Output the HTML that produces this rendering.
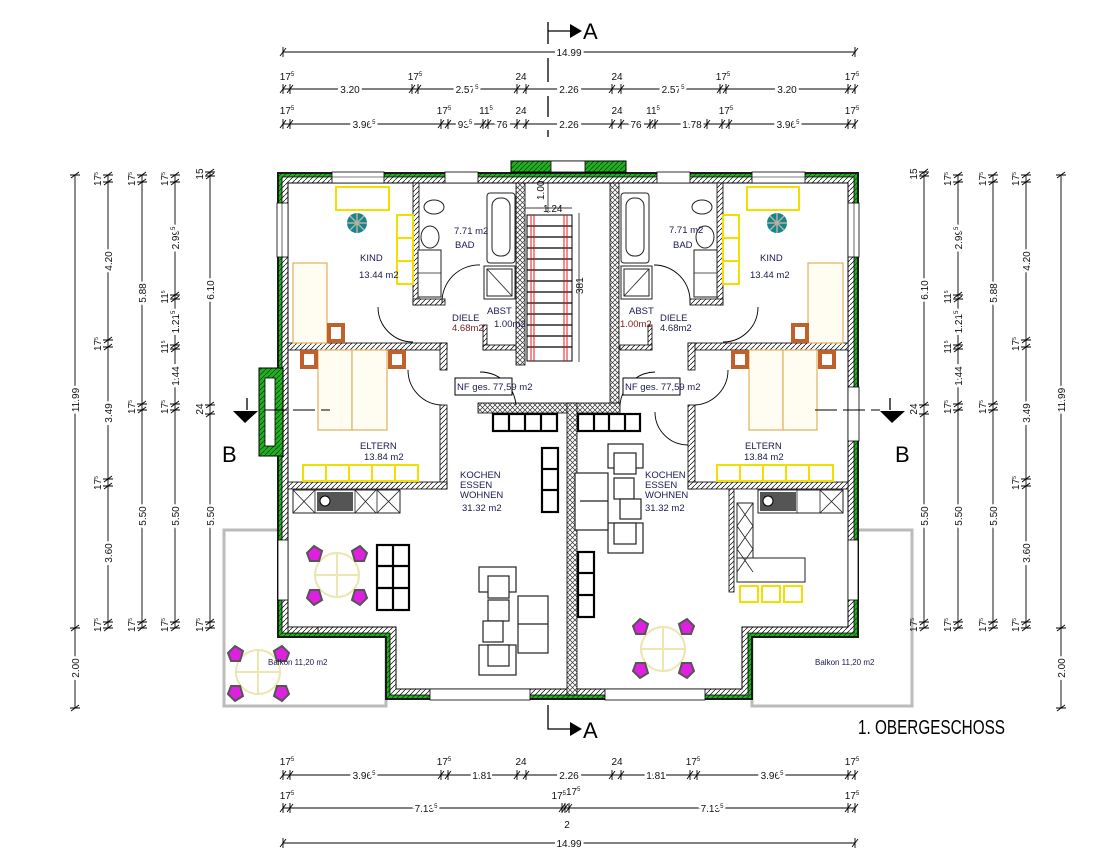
<!DOCTYPE html>
<html><head><meta charset="utf-8"><style>
html,body{margin:0;padding:0;background:#fff;width:1117px;height:865px;overflow:hidden}
svg{display:block}
.d{font-family:"Liberation Sans Narrow","Liberation Sans",sans-serif;font-size:10px;fill:#111}
.k{stroke:#fff;stroke-width:5px;paint-order:stroke}
.l{font-family:"Liberation Sans Narrow","Liberation Sans",sans-serif;font-size:9.5px;fill:#1a1a50}
</style></head><body>
<svg width="1117" height="865" viewBox="0 0 1117 865" xmlns="http://www.w3.org/2000/svg">
<defs>
<pattern id="h" width="5" height="5" patternUnits="userSpaceOnUse"><rect width="5" height="5" fill="#fff"/><path d="M0 5L5 0" stroke="#000" stroke-width="0.7"/></pattern>
<pattern id="x" width="5" height="5" patternUnits="userSpaceOnUse"><rect width="5" height="5" fill="#fff"/><path d="M0 5L5 0M0 0L5 5" stroke="#333" stroke-width="0.7"/></pattern>
<pattern id="g" width="5" height="5" patternUnits="userSpaceOnUse"><rect width="5" height="5" fill="#22b022"/><path d="M0 5L5 0" stroke="#0a4a0a" stroke-width="0.8"/></pattern>
<g id="t"><path d="M-3 4L3-4M0-5V5" stroke="#000" stroke-width="0.9" fill="none"/></g>
<g id="v"><path d="M-4 3L4-3M-5 0H5" stroke="#000" stroke-width="0.9" fill="none"/></g>
<g id="ch"><path d="M-9 -2L-2-9 6-4 3 6-6 6Z" fill="#e020e0" stroke="#555" stroke-width="2"/></g>
</defs>

<!-- balconies -->
<rect x="224" y="530" width="162" height="176" fill="#fff" stroke="#bbb" stroke-width="3"/>
<rect x="752" y="530" width="160" height="176" fill="#fff" stroke="#bbb" stroke-width="3"/>

<!-- outer walls -->
<polygon points="277,172 859,172 859,638 753,638 753,700 385,700 385,638 277,638" fill="#1a1a1a"/>
<polygon points="279,174 857,174 857,636 751,636 751,698 387,698 387,636 279,636" fill="url(#g)"/>
<polygon points="282,177 854,177 854,633 748,633 748,695 390,695 390,633 282,633" fill="url(#h)" stroke="#000" stroke-width="0.8"/>
<polygon points="288,183 848,183 848,627 742,627 742,689 396,689 396,627 288,627" fill="#fff" stroke="#000" stroke-width="1"/>
<!-- left bump -->
<rect x="259" y="368" width="24" height="88" fill="url(#g)" stroke="#000"/>
<rect x="265" y="378" width="10" height="68" fill="#fff" stroke="#000" stroke-width="0.8"/>
<!-- chimney top -->
<rect x="511" y="161" width="115" height="11" fill="url(#g)" stroke="#000"/>
<rect x="551" y="161" width="34" height="11" fill="#fff" stroke="#000" stroke-width="0.8"/>
<!-- windows top -->
<g fill="#fff" stroke="#000" stroke-width="0.8">
<rect x="332" y="172" width="52" height="11"/><rect x="445" y="172" width="33" height="11"/>
<rect x="657" y="172" width="33" height="11"/><rect x="752" y="172" width="53" height="11"/>
<rect x="277" y="203" width="11" height="54"/><rect x="848" y="203" width="11" height="54"/>
<rect x="848" y="387" width="11" height="54"/>
<rect x="278" y="540" width="10" height="60"/><rect x="848" y="540" width="10" height="60"/>
<rect x="430" y="689" width="100" height="11"/><rect x="605" y="689" width="100" height="11"/>
</g>
<g stroke="#000" stroke-width="0.6"><line x1="332" y1="177" x2="384" y2="177"/><line x1="752" y1="177" x2="805" y2="177"/><line x1="282" y1="203" x2="282" y2="257"/><line x1="854" y1="203" x2="854" y2="257"/></g>

<!-- interior walls -->
<g fill="url(#h)" stroke="#000" stroke-width="0.8">
<rect x="413" y="183" width="6" height="122"/><rect x="413" y="299" width="32" height="6"/>
<rect x="717" y="183" width="6" height="122"/><rect x="690" y="299" width="33" height="6"/>
<rect x="288" y="343" width="159" height="7"/><rect x="440" y="343" width="7" height="27"/>
<rect x="688" y="343" width="160" height="7"/><rect x="688" y="343" width="7" height="27"/>
<rect x="440" y="405" width="7" height="84"/><rect x="288" y="482" width="159" height="7"/>
<rect x="688" y="405" width="7" height="84"/><rect x="688" y="482" width="160" height="7"/>
<rect x="729" y="489" width="5" height="103"/>
<rect x="483" y="325" width="4" height="25"/><rect x="483" y="345" width="33" height="5"/>
<rect x="648" y="325" width="4" height="25"/><rect x="620" y="345" width="32" height="5"/>
<rect x="288" y="627" width="30" height="6"/>
</g>
<g fill="url(#x)" stroke="#000" stroke-width="0.8">
<rect x="516" y="183" width="9" height="182"/><rect x="610" y="183" width="9" height="222"/>
<rect x="478" y="403" width="142" height="10"/><rect x="567" y="403" width="10" height="292"/>
</g>
<!-- stairs -->
<rect x="527" y="215" width="45" height="146" fill="#fff" stroke="#000"/>
<g stroke="#000" stroke-width="1.3">
<line x1="527" y1="226" x2="572" y2="226"/><line x1="527" y1="237" x2="572" y2="237"/><line x1="527" y1="248" x2="572" y2="248"/><line x1="527" y1="259" x2="572" y2="259"/><line x1="527" y1="270" x2="572" y2="270"/><line x1="527" y1="281" x2="572" y2="281"/><line x1="527" y1="292" x2="572" y2="292"/><line x1="527" y1="303" x2="572" y2="303"/><line x1="527" y1="314" x2="572" y2="314"/><line x1="527" y1="325" x2="572" y2="325"/><line x1="527" y1="336" x2="572" y2="336"/><line x1="527" y1="347" x2="572" y2="347"/></g>
<g stroke="#e00" stroke-width="0.9"><line x1="531" y1="215" x2="531" y2="361"/><line x1="534" y1="215" x2="534" y2="361"/><line x1="564" y1="215" x2="564" y2="361"/><line x1="567" y1="215" x2="567" y2="361"/></g>
<line x1="548" y1="183" x2="548" y2="213" stroke="#000" stroke-width="0.7"/>
<line x1="525" y1="208" x2="572" y2="208" stroke="#000" stroke-width="0.7"/>
<text class="d" font-size="6" x="544" y="200" transform="rotate(-90 544 200)">1.00</text>
<text class="d" font-size="6" x="543" y="212">1.24</text>
<line x1="579" y1="213" x2="579" y2="362" stroke="#000" stroke-width="0.7"/>
<text class="d" font-size="6" x="583" y="294" transform="rotate(-90 583 294)">381</text>

<!-- bathrooms -->
<g fill="#fff" stroke="#222" stroke-width="1">
<rect x="487" y="193" width="28" height="70" rx="3"/><rect x="492" y="198" width="18" height="58" rx="8"/>
<rect x="484" y="266" width="31" height="33"/><rect x="487" y="269" width="25" height="27"/>
<rect x="621" y="193" width="28" height="70" rx="3"/><rect x="626" y="198" width="18" height="58" rx="8"/>
<rect x="621" y="266" width="31" height="33"/><rect x="624" y="269" width="25" height="27"/>
<ellipse cx="434" cy="207" rx="10" ry="7"/><ellipse cx="430" cy="237" rx="9" ry="11"/>
<ellipse cx="702" cy="207" rx="10" ry="7"/><ellipse cx="705" cy="237" rx="9" ry="11"/>
<rect x="418" y="250" width="23" height="47"/><rect x="694" y="250" width="23" height="47"/>
</g>
<g stroke="#222" stroke-width="0.8"><line x1="487" y1="269" x2="512" y2="296"/><line x1="649" y1="269" x2="624" y2="296"/><line x1="418" y1="273" x2="441" y2="273"/><line x1="694" y1="273" x2="717" y2="273"/></g>

<!-- doors -->
<g fill="none" stroke="#000" stroke-width="0.9">
<path d="M378 307 A35 35 0 0 0 413 342"/><path d="M442 303 A37 37 0 0 1 480 265"/>
<path d="M408 370 A35 35 0 0 0 442 405"/><path d="M480 372 A36 36 0 0 1 516 405"/>
<path d="M758 307 A35 35 0 0 1 723 342"/><path d="M690 303 A36 36 0 0 0 654 265"/>
<path d="M728 370 A35 35 0 0 1 695 405"/><path d="M655 372 A36 36 0 0 0 620 405"/>
<path d="M655 412 A33 33 0 0 0 688 445"/>
</g>

<!-- KIND furniture -->
<g fill="none" stroke="#f0e000" stroke-width="2">
<rect x="336" y="187" width="53" height="23"/><rect x="397" y="215" width="16" height="23"/><rect x="397" y="238" width="16" height="23"/><rect x="397" y="261" width="16" height="23"/>
<rect x="747" y="187" width="52" height="23"/><rect x="723" y="215" width="16" height="23"/><rect x="723" y="238" width="16" height="23"/><rect x="723" y="261" width="16" height="23"/>
<rect x="303" y="465" width="23" height="16"/><rect x="326" y="465" width="23" height="16"/><rect x="349" y="465" width="23" height="16"/><rect x="372" y="465" width="23" height="16"/><rect x="395" y="465" width="23" height="16"/>
<rect x="717" y="465" width="23" height="16"/><rect x="740" y="465" width="23" height="16"/><rect x="763" y="465" width="23" height="16"/><rect x="786" y="465" width="23" height="16"/><rect x="809" y="465" width="24" height="16"/>
<rect x="740" y="586" width="18" height="16"/><rect x="762" y="586" width="18" height="16"/><rect x="784" y="586" width="18" height="16"/>
</g>
<circle cx="357" cy="223" r="10" fill="#17868a"/><path d="M357 213V233M347 223H367M350 216L364 230M364 216L350 230" stroke="#b8b0a0" stroke-width="1.5"/>
<circle cx="777" cy="223" r="10" fill="#17868a"/><path d="M777 213V233M767 223H787M770 216L784 230M784 216L770 230" stroke="#b8b0a0" stroke-width="1.5"/>
<g fill="#fffdf2" stroke="#e0b060" stroke-width="1.2">
<rect x="293" y="263" width="34" height="80"/><rect x="808" y="263" width="35" height="80"/>
<rect x="318" y="350" width="34" height="80"/><rect x="352" y="350" width="35" height="80"/>
<rect x="749" y="350" width="34" height="80"/><rect x="783" y="350" width="34" height="80"/>
</g>
<g fill="#fff" stroke="#c0602a" stroke-width="4">
<rect x="329" y="325" width="14" height="16"/><rect x="302" y="352" width="14" height="15"/><rect x="390" y="352" width="14" height="15"/>
<rect x="793" y="325" width="14" height="16"/><rect x="733" y="352" width="14" height="15"/><rect x="820" y="352" width="14" height="15"/>
</g>
<line x1="265" y1="410" x2="330" y2="410" stroke="#000" stroke-width="1" stroke-dasharray="22,6"/>
<line x1="815" y1="410" x2="880" y2="410" stroke="#000" stroke-width="1" stroke-dasharray="22,6"/>

<!-- NF boxes -->
<rect x="455" y="378" width="57" height="17" fill="#fff" stroke="#000"/>
<text class="l" x="457" y="390" font-size="9.5">NF ges. 77,59 m2</text>
<rect x="623" y="378" width="57" height="17" fill="#fff" stroke="#000"/>
<text class="l" x="625" y="390" font-size="9.5">NF ges. 77,59 m2</text>

<!-- shelves -->
<g fill="none" stroke="#000" stroke-width="2.2">
<rect x="493" y="414" width="64" height="17"/><line x1="509" y1="414" x2="509" y2="431"/><line x1="525" y1="414" x2="525" y2="431"/><line x1="541" y1="414" x2="541" y2="431"/>
<rect x="578" y="414" width="62" height="17"/><line x1="594" y1="414" x2="594" y2="431"/><line x1="609" y1="414" x2="609" y2="431"/><line x1="625" y1="414" x2="625" y2="431"/>
<rect x="542" y="448" width="16" height="64"/><line x1="542" y1="469" x2="558" y2="469"/><line x1="542" y1="490" x2="558" y2="490"/>
<rect x="578" y="552" width="16" height="65"/><line x1="578" y1="573" x2="594" y2="573"/><line x1="578" y1="595" x2="594" y2="595"/>
<rect x="377" y="545" width="32" height="65"/><line x1="393" y1="545" x2="393" y2="610"/><line x1="377" y1="566" x2="409" y2="566"/><line x1="377" y1="588" x2="409" y2="588"/>
</g>

<!-- kitchens -->
<g fill="#fff" stroke="#222" stroke-width="1">
<rect x="293" y="490" width="107" height="23"/><rect x="758" y="490" width="85" height="23"/>
<rect x="737" y="503" width="16" height="69"/><rect x="737" y="558" width="68" height="24"/>
</g>
<g stroke="#222" stroke-width="0.8" fill="none">
<path d="M293 490L315 513M315 490L293 513M355 490L376 513M376 490L355 513M377 490L400 513M400 490L377 513"/>
<path d="M820 490L843 513M843 490L820 513M737 503L753 526M753 503L737 526M737 526L753 549M753 526L737 549M737 549L753 572M753 549L737 572"/>
<line x1="315" y1="490" x2="315" y2="513"/><line x1="355" y1="490" x2="355" y2="513"/><line x1="377" y1="490" x2="377" y2="513"/>
<line x1="797" y1="490" x2="797" y2="513"/><line x1="820" y1="490" x2="820" y2="513"/>
</g>
<rect x="317" y="492" width="36" height="19" fill="#555"/><circle cx="325" cy="501" r="5" fill="#fff" stroke="#000"/>
<rect x="760" y="492" width="36" height="19" fill="#555"/><circle cx="768" cy="501" r="5" fill="#fff" stroke="#000"/>

<!-- sofas -->
<g fill="#fff" stroke="#222" stroke-width="1.2">
<rect x="479" y="567" width="37" height="25"/><rect x="488" y="576" width="21" height="22"/>
<rect x="488" y="600" width="21" height="21"/><rect x="483" y="621" width="20" height="21"/>
<rect x="479" y="645" width="37" height="30"/><rect x="488" y="645" width="21" height="21"/>
<rect x="518" y="596" width="30" height="57"/><line x1="518" y1="624" x2="548" y2="624"/>
<rect x="608" y="444" width="35" height="24"/><rect x="614" y="453" width="22" height="21"/>
<rect x="614" y="478" width="20" height="21"/><rect x="620" y="499" width="21" height="20"/>
<rect x="608" y="523" width="35" height="30"/><rect x="614" y="523" width="22" height="21"/>
<rect x="575" y="473" width="33" height="57"/><line x1="580" y1="501" x2="608" y2="501"/>
</g>

<!-- round tables -->
<g fill="none" stroke="#ece6b0" stroke-width="2">
<circle cx="337" cy="575" r="22"/><path d="M337 553V597M315 575H359"/>
<circle cx="258" cy="672" r="22"/><path d="M258 650V694M236 672H280"/>
<circle cx="663" cy="649" r="22"/><path d="M663 627V671M641 649H685"/>
</g>
<use href="#ch" transform="translate(316,555)"/><use href="#ch" transform="translate(358,555) scale(-1,1)"/>
<use href="#ch" transform="translate(316,596) scale(1,-1)"/><use href="#ch" transform="translate(358,596) scale(-1,-1)"/>
<use href="#ch" transform="translate(237,655)"/><use href="#ch" transform="translate(280,655) scale(-1,1)"/>
<use href="#ch" transform="translate(237,692) scale(1,-1)"/><use href="#ch" transform="translate(280,692) scale(-1,-1)"/>
<use href="#ch" transform="translate(642,628)"/><use href="#ch" transform="translate(685,628) scale(-1,1)"/>
<use href="#ch" transform="translate(642,669) scale(1,-1)"/><use href="#ch" transform="translate(685,669) scale(-1,-1)"/>

<!-- room labels -->
<g class="l">
<text x="454" y="234">7.71 m2</text><text x="455" y="248">BAD</text>
<text x="360" y="261">KIND</text><text x="359" y="278">13.44 m2</text>
<text x="452" y="321">DIELE</text><text x="452" y="331" fill="#7a2020">4.68m2</text>
<text x="487" y="314">ABST</text><text x="494" y="327">1.00m2</text>
<text x="360" y="449">ELTERN</text><text x="364" y="460">13.84 m2</text>
<text x="460" y="478">KOCHEN</text><text x="460" y="488">ESSEN</text><text x="460" y="498">WOHNEN</text><text x="462" y="511">31.32 m2</text>
<text x="669" y="233">7.71 m2</text><text x="673" y="248">BAD</text>
<text x="760" y="261">KIND</text><text x="750" y="278">13.44 m2</text>
<text x="660" y="321">DIELE</text><text x="660" y="331">4.68m2</text>
<text x="629" y="314">ABST</text><text x="620" y="327" fill="#7a2020">1.00m2</text>
<text x="745" y="449">ELTERN</text><text x="744" y="460">13.84 m2</text>
<text x="645" y="478">KOCHEN</text><text x="645" y="488">ESSEN</text><text x="645" y="498">WOHNEN</text><text x="645" y="511">31.32 m2</text>
<text x="268" y="665" font-size="8">Balkon 11,20 m2</text><text x="815" y="665" font-size="8">Balkon 11,20 m2</text>
</g>

<!-- section markers -->
<g stroke="#000" stroke-width="1.3" fill="none">
<path d="M548 22V44M548 58V82M548 96V117M548 130V137"/>
<path d="M548 31H572"/><path d="M548 705V729H572"/>
<path d="M247 398V410M890 398V410"/>
</g>
<path d="M570 24L582 31 570 38Z" fill="#000"/><path d="M570 722L582 729 570 736Z" fill="#000"/>
<path d="M233 411H258L245 423Z" fill="#000"/><path d="M880 411H905L892 423Z" fill="#000"/>
<g font-family="Liberation Sans,sans-serif" font-size="22" fill="#000">
<text x="583" y="39">A</text><text x="583" y="738">A</text><text x="222" y="462">B</text><text x="895" y="462">B</text>
</g>
<text x="858" y="734" font-family="Liberation Sans Narrow,Liberation Sans,sans-serif" font-size="20" textLength="147" lengthAdjust="spacingAndGlyphs">1. OBERGESCHOSS</text>

<!-- horizontal dimensions -->
<g stroke="#000" stroke-width="0.9">
<line x1="283" y1="52" x2="855" y2="52"/><line x1="283" y1="89" x2="855" y2="89"/><line x1="283" y1="124" x2="855" y2="124"/>
<line x1="283" y1="775" x2="855" y2="775"/><line x1="283" y1="808" x2="855" y2="808"/><line x1="283" y1="843" x2="855" y2="843"/>
<line x1="75" y1="175" x2="75" y2="708"/><line x1="108" y1="175" x2="108" y2="628"/><line x1="142" y1="175" x2="142" y2="628"/><line x1="175" y1="175" x2="175" y2="628"/><line x1="210" y1="172" x2="210" y2="628"/>
<line x1="1061" y1="175" x2="1061" y2="708"/><line x1="1026" y1="175" x2="1026" y2="628"/><line x1="993" y1="175" x2="993" y2="628"/><line x1="958" y1="175" x2="958" y2="628"/><line x1="924" y1="172" x2="924" y2="628"/>
</g>
<g>
<use href="#t" x="283" y="52"/><use href="#t" x="855" y="52"/>
<use href="#t" x="283" y="89"/><use href="#t" x="290" y="89"/><use href="#t" x="412" y="89"/><use href="#t" x="418" y="89"/><use href="#t" x="517" y="89"/><use href="#t" x="526" y="89"/><use href="#t" x="612" y="89"/><use href="#t" x="621" y="89"/><use href="#t" x="720" y="89"/><use href="#t" x="726" y="89"/><use href="#t" x="848" y="89"/><use href="#t" x="855" y="89"/>
<use href="#t" x="283" y="124"/><use href="#t" x="290" y="124"/><use href="#t" x="441" y="124"/><use href="#t" x="448" y="124"/><use href="#t" x="483" y="124"/><use href="#t" x="488" y="124"/><use href="#t" x="517" y="124"/><use href="#t" x="526" y="124"/><use href="#t" x="612" y="124"/><use href="#t" x="621" y="124"/><use href="#t" x="650" y="124"/><use href="#t" x="655" y="124"/><use href="#t" x="707" y="124"/><use href="#t" x="722" y="124"/><use href="#t" x="729" y="124"/><use href="#t" x="848" y="124"/><use href="#t" x="855" y="124"/>
<use href="#t" x="283" y="775"/><use href="#t" x="290" y="775"/><use href="#t" x="441" y="775"/><use href="#t" x="448" y="775"/><use href="#t" x="517" y="775"/><use href="#t" x="526" y="775"/><use href="#t" x="612" y="775"/><use href="#t" x="621" y="775"/><use href="#t" x="690" y="775"/><use href="#t" x="697" y="775"/><use href="#t" x="848" y="775"/><use href="#t" x="855" y="775"/>
<use href="#t" x="283" y="808"/><use href="#t" x="290" y="808"/><use href="#t" x="562" y="808"/><use href="#t" x="565" y="808"/><use href="#t" x="569" y="808"/><use href="#t" x="848" y="808"/><use href="#t" x="855" y="808"/>
<use href="#t" x="283" y="843"/><use href="#t" x="855" y="843"/>
</g>
<g class="d" text-anchor="middle">
<text class="d k" x="569" y="56">14.99</text><text class="d k" x="569" y="847">14.99</text>
<text x="287" y="80">17<tspan font-size="6" dy="-4">5</tspan></text><text x="415" y="80">17<tspan font-size="6" dy="-4">5</tspan></text><text x="521" y="80">24</text><text x="617" y="80">24</text><text x="723" y="80">17<tspan font-size="6" dy="-4">5</tspan></text><text x="852" y="80">17<tspan font-size="6" dy="-4">5</tspan></text>
<text class="d k" x="350" y="93">3.20</text><text class="d k" x="467" y="93">2.57<tspan font-size="6" dy="-4">5</tspan></text><text class="d k" x="569" y="93">2.26</text><text class="d k" x="673" y="93">2.57<tspan font-size="6" dy="-4">5</tspan></text><text class="d k" x="787" y="93">3.20</text>
<text x="287" y="114">17<tspan font-size="6" dy="-4">5</tspan></text><text x="444" y="114">17<tspan font-size="6" dy="-4">5</tspan></text><text x="486" y="114">11<tspan font-size="6" dy="-4">5</tspan></text><text x="521" y="114">24</text><text x="617" y="114">24</text><text x="653" y="114">11<tspan font-size="6" dy="-4">5</tspan></text><text x="726" y="114">17<tspan font-size="6" dy="-4">5</tspan></text><text x="852" y="114">17<tspan font-size="6" dy="-4">5</tspan></text>
<text class="d k" x="364" y="128">3.96<tspan font-size="6" dy="-4">5</tspan></text><text class="d k" x="465" y="128">93<tspan font-size="6" dy="-4">5</tspan></text><text class="d k" x="502" y="128">76</text><text class="d k" x="569" y="128">2.26</text><text class="d k" x="636" y="128">76</text><text class="d k" x="692" y="128">1.78</text><text class="d k" x="788" y="128">3.96<tspan font-size="6" dy="-4">5</tspan></text>
<text x="287" y="765">17<tspan font-size="6" dy="-4">5</tspan></text><text x="444" y="765">17<tspan font-size="6" dy="-4">5</tspan></text><text x="521" y="765">24</text><text x="617" y="765">24</text><text x="693" y="765">17<tspan font-size="6" dy="-4">5</tspan></text><text x="852" y="765">17<tspan font-size="6" dy="-4">5</tspan></text>
<text class="d k" x="364" y="779">3.96<tspan font-size="6" dy="-4">5</tspan></text><text class="d k" x="482" y="779">1.81</text><text class="d k" x="569" y="779">2.26</text><text class="d k" x="656" y="779">1.81</text><text class="d k" x="772" y="779">3.96<tspan font-size="6" dy="-4">5</tspan></text>
<text x="287" y="799">17<tspan font-size="6" dy="-4">5</tspan></text><text x="566" y="799">17<tspan font-size="6" dy="-4">5</tspan>17<tspan font-size="6" dy="-4">5</tspan></text><text x="852" y="799">17<tspan font-size="6" dy="-4">5</tspan></text>
<text class="d k" x="426" y="812">7.13<tspan font-size="6" dy="-4">5</tspan></text><text class="d k" x="712" y="812">7.13<tspan font-size="6" dy="-4">5</tspan></text><text x="567" y="828">2</text>
</g>

<!-- vertical ticks -->
<g>
<use href="#v" x="75" y="175"/><use href="#v" x="75" y="628"/><use href="#v" x="75" y="708"/>
<use href="#v" x="108" y="175"/><use href="#v" x="108" y="182"/><use href="#v" x="108" y="340"/><use href="#v" x="108" y="347"/><use href="#v" x="108" y="479"/><use href="#v" x="108" y="486"/><use href="#v" x="108" y="622"/><use href="#v" x="108" y="628"/>
<use href="#v" x="142" y="175"/><use href="#v" x="142" y="182"/><use href="#v" x="142" y="404"/><use href="#v" x="142" y="410"/><use href="#v" x="142" y="622"/><use href="#v" x="142" y="628"/>
<use href="#v" x="175" y="175"/><use href="#v" x="175" y="182"/><use href="#v" x="175" y="295"/><use href="#v" x="175" y="299"/><use href="#v" x="175" y="345"/><use href="#v" x="175" y="349"/><use href="#v" x="175" y="404"/><use href="#v" x="175" y="410"/><use href="#v" x="175" y="622"/><use href="#v" x="175" y="628"/>
<use href="#v" x="210" y="172"/><use href="#v" x="210" y="176"/><use href="#v" x="210" y="405"/><use href="#v" x="210" y="414"/><use href="#v" x="210" y="622"/><use href="#v" x="210" y="628"/>
<use href="#v" x="1061" y="175"/><use href="#v" x="1061" y="628"/><use href="#v" x="1061" y="708"/>
<use href="#v" x="1026" y="175"/><use href="#v" x="1026" y="182"/><use href="#v" x="1026" y="340"/><use href="#v" x="1026" y="347"/><use href="#v" x="1026" y="479"/><use href="#v" x="1026" y="486"/><use href="#v" x="1026" y="622"/><use href="#v" x="1026" y="628"/>
<use href="#v" x="993" y="175"/><use href="#v" x="993" y="182"/><use href="#v" x="993" y="404"/><use href="#v" x="993" y="410"/><use href="#v" x="993" y="622"/><use href="#v" x="993" y="628"/>
<use href="#v" x="958" y="175"/><use href="#v" x="958" y="182"/><use href="#v" x="958" y="295"/><use href="#v" x="958" y="299"/><use href="#v" x="958" y="345"/><use href="#v" x="958" y="349"/><use href="#v" x="958" y="404"/><use href="#v" x="958" y="410"/><use href="#v" x="958" y="622"/><use href="#v" x="958" y="628"/>
<use href="#v" x="924" y="172"/><use href="#v" x="924" y="176"/><use href="#v" x="924" y="405"/><use href="#v" x="924" y="414"/><use href="#v" x="924" y="622"/><use href="#v" x="924" y="628"/>
</g>
<g class="d" text-anchor="middle">
<text class="d k" transform="translate(79,400) rotate(-90)">11.99</text><text class="d k" transform="translate(79,668) rotate(-90)">2.00</text>
<text class="d k" transform="translate(112,261) rotate(-90)">4.20</text><text class="d k" transform="translate(112,413) rotate(-90)">3.49</text><text class="d k" transform="translate(112,553) rotate(-90)">3.60</text>
<text class="d k" transform="translate(146,293) rotate(-90)">5.88</text><text class="d k" transform="translate(146,516) rotate(-90)">5.50</text>
<text class="d k" transform="translate(179,238) rotate(-90)">2.99<tspan font-size="6" dy="-4">5</tspan></text><text class="d k" transform="translate(179,322) rotate(-90)">1.21<tspan font-size="6" dy="-4">5</tspan></text><text class="d k" transform="translate(179,376) rotate(-90)">1.44</text><text class="d k" transform="translate(179,516) rotate(-90)">5.50</text>
<text class="d k" transform="translate(214,290) rotate(-90)">6.10</text><text class="d k" transform="translate(214,516) rotate(-90)">5.50</text>
<text class="d k" transform="translate(1065,400) rotate(-90)">11.99</text><text class="d k" transform="translate(1065,668) rotate(-90)">2.00</text>
<text class="d k" transform="translate(1030,261) rotate(-90)">4.20</text><text class="d k" transform="translate(1030,413) rotate(-90)">3.49</text><text class="d k" transform="translate(1030,553) rotate(-90)">3.60</text>
<text class="d k" transform="translate(997,293) rotate(-90)">5.88</text><text class="d k" transform="translate(997,516) rotate(-90)">5.50</text>
<text class="d k" transform="translate(962,238) rotate(-90)">2.99<tspan font-size="6" dy="-4">5</tspan></text><text class="d k" transform="translate(962,322) rotate(-90)">1.21<tspan font-size="6" dy="-4">5</tspan></text><text class="d k" transform="translate(962,376) rotate(-90)">1.44</text><text class="d k" transform="translate(962,516) rotate(-90)">5.50</text>
<text class="d k" transform="translate(928,290) rotate(-90)">6.10</text><text class="d k" transform="translate(928,516) rotate(-90)">5.50</text>
</g>
<g class="d" font-size="9" text-anchor="middle">
<text transform="translate(101,179) rotate(-90)">17<tspan font-size="5" dy="-3">5</tspan></text><text transform="translate(101,344) rotate(-90)">17<tspan font-size="5" dy="-3">5</tspan></text><text transform="translate(101,483) rotate(-90)">17<tspan font-size="5" dy="-3">5</tspan></text><text transform="translate(101,625) rotate(-90)">17<tspan font-size="5" dy="-3">5</tspan></text>
<text transform="translate(135,179) rotate(-90)">17<tspan font-size="5" dy="-3">5</tspan></text><text transform="translate(135,407) rotate(-90)">17<tspan font-size="5" dy="-3">5</tspan></text><text transform="translate(135,625) rotate(-90)">17<tspan font-size="5" dy="-3">5</tspan></text>
<text transform="translate(168,179) rotate(-90)">17<tspan font-size="5" dy="-3">5</tspan></text><text transform="translate(168,297) rotate(-90)">11<tspan font-size="5" dy="-3">5</tspan></text><text transform="translate(168,347) rotate(-90)">11<tspan font-size="5" dy="-3">5</tspan></text><text transform="translate(168,407) rotate(-90)">17<tspan font-size="5" dy="-3">5</tspan></text><text transform="translate(168,625) rotate(-90)">17<tspan font-size="5" dy="-3">5</tspan></text>
<text transform="translate(203,174) rotate(-90)">15</text><text transform="translate(203,409) rotate(-90)">24</text><text transform="translate(203,625) rotate(-90)">17<tspan font-size="5" dy="-3">5</tspan></text>
<text transform="translate(1019,179) rotate(-90)">17<tspan font-size="5" dy="-3">5</tspan></text><text transform="translate(1019,344) rotate(-90)">17<tspan font-size="5" dy="-3">5</tspan></text><text transform="translate(1019,483) rotate(-90)">17<tspan font-size="5" dy="-3">5</tspan></text><text transform="translate(1019,625) rotate(-90)">17<tspan font-size="5" dy="-3">5</tspan></text>
<text transform="translate(986,179) rotate(-90)">17<tspan font-size="5" dy="-3">5</tspan></text><text transform="translate(986,407) rotate(-90)">17<tspan font-size="5" dy="-3">5</tspan></text><text transform="translate(986,625) rotate(-90)">17<tspan font-size="5" dy="-3">5</tspan></text>
<text transform="translate(951,179) rotate(-90)">17<tspan font-size="5" dy="-3">5</tspan></text><text transform="translate(951,297) rotate(-90)">11<tspan font-size="5" dy="-3">5</tspan></text><text transform="translate(951,347) rotate(-90)">11<tspan font-size="5" dy="-3">5</tspan></text><text transform="translate(951,407) rotate(-90)">17<tspan font-size="5" dy="-3">5</tspan></text><text transform="translate(951,625) rotate(-90)">17<tspan font-size="5" dy="-3">5</tspan></text>
<text transform="translate(917,174) rotate(-90)">15</text><text transform="translate(917,409) rotate(-90)">24</text><text transform="translate(917,625) rotate(-90)">17<tspan font-size="5" dy="-3">5</tspan></text>
</g>
</svg>
</body></html>
